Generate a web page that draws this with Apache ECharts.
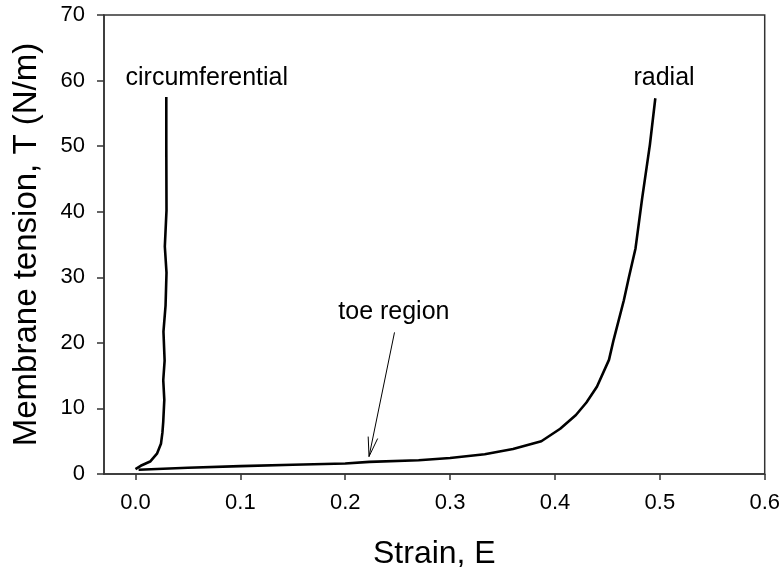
<!DOCTYPE html>
<html>
<head>
<meta charset="utf-8">
<script src="https://cdn.jsdelivr.net/npm/echarts@6/dist/echarts.min.js"></script>
<style>
  html, body { margin: 0; padding: 0; background: #fff; }
  #chart { width: 783px; height: 575px; }
</style>
</head>
<body>
<div id="chart"></div>
<script>
// Strain E vs membrane tension T (N/m)
const circumferential = [
  [0.000, 0.75], [0.005, 1.25], [0.014, 1.9], [0.0205, 3.1], [0.0243, 4.6],
  [0.0257, 6.3], [0.0265, 8.0], [0.0275, 11.3], [0.0265, 14.3], [0.0278, 17.3],
  [0.0267, 21.7], [0.0287, 25.7], [0.0296, 30.7], [0.0280, 34.7], [0.0296, 40.2],
  [0.0294, 50.0], [0.0294, 57.5]
];
const radial = [
  [0.003, 0.65], [0.05, 0.95], [0.10, 1.2], [0.15, 1.4], [0.20, 1.6],
  [0.223, 1.85], [0.27, 2.1], [0.30, 2.45], [0.333, 3.0], [0.36, 3.8],
  [0.387, 5.0], [0.405, 6.9], [0.42, 9.0], [0.43, 10.9], [0.44, 13.3],
  [0.4515, 17.4], [0.456, 20.5], [0.4657, 26.5], [0.4705, 30.0], [0.4768, 34.4],
  [0.4831, 42.0], [0.4905, 50.2], [0.4957, 57.3]
];
const xTicks = [0.0, 0.1, 0.2, 0.3, 0.4, 0.5, 0.6];
const yTicks = [0, 10, 20, 30, 40, 50, 60, 70];

// Text annotations, anchored in data units
const curveLabels = [
  { text: 'circumferential', at: [0.068, 60.3] },
  { text: 'radial', at: [0.504, 60.3] },
  { text: 'toe region', at: [0.2464, 24.7] }
];
const toeArrow = { from: [0.247, 21.6], to: [0.2227, 2.66] };

const FONT = 'Arial, "Liberation Sans", Helvetica, sans-serif';
const AXIS_COLOR = '#333';

const chart = echarts.init(document.getElementById('chart'), null, { renderer: 'canvas' });

const option = {
  backgroundColor: '#fff',
  animation: false,
  grid: {
    left: 104, right: 15, top: 15, bottom: 94,
    show: true, borderColor: AXIS_COLOR, borderWidth: 1.5, backgroundColor: 'transparent'
  },
  xAxis: {
    type: 'value',
    min: -0.03, max: 0.6,
    name: 'Strain, E',
    nameLocation: 'middle',
    nameGap: 64,
    nameTextStyle: { fontFamily: FONT, fontSize: 32, color: '#000' },
    axisLine: { show: true, onZero: false, lineStyle: { color: AXIS_COLOR, width: 1.5 } },
    axisTick: { show: true, inside: false, length: 6, customValues: xTicks,
                lineStyle: { color: AXIS_COLOR, width: 1.5 } },
    axisLabel: { customValues: xTicks, margin: 18, fontFamily: FONT, fontSize: 22, color: '#000',
                 formatter: v => v.toFixed(1) },
    splitLine: { show: false }
  },
  yAxis: {
    type: 'value',
    min: 0, max: 70, interval: 10,
    name: 'Membrane tension, T (N/m)',
    nameLocation: 'middle',
    nameGap: 61,
    nameTextStyle: { fontFamily: FONT, fontSize: 33, color: '#000' },
    axisLine: { show: true, onZero: false, lineStyle: { color: AXIS_COLOR, width: 1.5 } },
    axisTick: { show: true, inside: false, length: 7, lineStyle: { color: AXIS_COLOR, width: 1.5 } },
    axisLabel: { margin: 19, fontFamily: FONT, fontSize: 22, color: '#000',
                 customValues: yTicks, formatter: v => String(v) },
    splitLine: { show: false }
  },
  series: [
    {
      name: 'circumferential', type: 'line', data: circumferential,
      showSymbol: false, smooth: false,
      lineStyle: { color: '#000', width: 2.6 }
    },
    {
      name: 'radial', type: 'line', data: radial,
      showSymbol: false, smooth: false,
      lineStyle: { color: '#000', width: 2.6 }
    }
  ]
};
chart.setOption(option);

// Place annotation texts and the arrow through the chart's coordinate system
function buildAnnotations() {
  const els = [];
  curveLabels.forEach(l => {
    const p = chart.convertToPixel({ gridIndex: 0 }, l.at);
    els.push({
      type: 'text', x: p[0], y: p[1], z: 10,
      style: { text: l.text, fontFamily: FONT, fontSize: 25, fill: '#000',
               align: 'center', verticalAlign: 'middle' }
    });
  });
  const a = chart.convertToPixel({ gridIndex: 0 }, toeArrow.from);
  const b = chart.convertToPixel({ gridIndex: 0 }, toeArrow.to);
  els.push({
    type: 'line', z: 10,
    shape: { x1: a[0], y1: a[1], x2: b[0], y2: b[1] },
    style: { stroke: '#000', lineWidth: 1 }
  });
  const ang = Math.atan2(a[1] - b[1], a[0] - b[0]);
  const len = 20, spread = 14 * Math.PI / 180;
  const p1 = [b[0] + len * Math.cos(ang - spread), b[1] + len * Math.sin(ang - spread)];
  const p2 = [b[0] + len * Math.cos(ang + spread), b[1] + len * Math.sin(ang + spread)];
  els.push({
    type: 'polyline', z: 10,
    shape: { points: [p1, b, p2] },
    style: { stroke: '#000', lineWidth: 1, fill: null }
  });
  chart.setOption({ graphic: { elements: els } });
}
buildAnnotations();
</script>
</body>
</html>
